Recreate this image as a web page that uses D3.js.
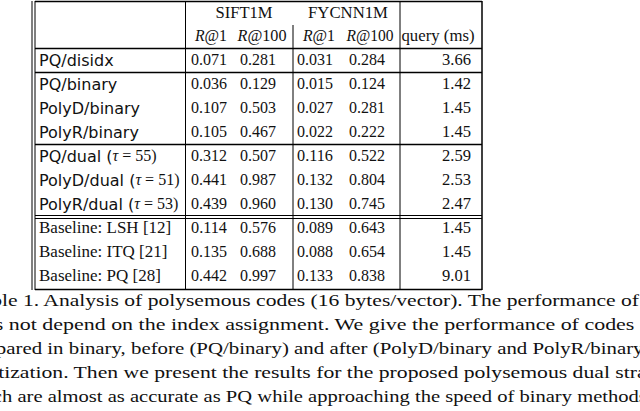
<!DOCTYPE html>
<html><head><meta charset="utf-8">
<script src="https://cdn.jsdelivr.net/npm/d3@7"></script>
<style>body{margin:0;background:#fff;overflow:hidden}</style></head>
<body><svg id="c" width="640" height="411"></svg>
<script>
const methods=["PQ/disidx","PQ/binary","PolyD/binary","PolyR/binary","PQ/dual (τ = 55)","PolyD/dual (τ = 51)","PolyR/dual (τ = 53)","Baseline: LSH [12]","Baseline: ITQ [21]","Baseline: PQ [28]"];
const siftR1=["0.071","0.036","0.107","0.105","0.312","0.441","0.439","0.114","0.135","0.442"];
const siftR100=["0.281","0.129","0.503","0.467","0.507","0.987","0.960","0.576","0.688","0.997"];
const fyR1=["0.031","0.015","0.027","0.022","0.116","0.132","0.130","0.089","0.088","0.133"];
const fyR100=["0.284","0.124","0.281","0.222","0.522","0.804","0.745","0.643","0.654","0.838"];
const query=["3.66","1.42","1.45","1.45","2.59","2.53","2.47","1.45","1.45","9.01"];
const caption=[
 ["Table 1.  Analysis of polysemous codes (16 bytes/vector). The performance of PQ",-30,702],
 ["does not depend on the index assignment. We give the performance of codes com-",-37,722],
 ["compared in binary, before (PQ/binary) and after (PolyD/binary and PolyR/binary) opti-",-40,735],
 ["quantization. Then we present the results for the proposed polysemous dual strategy,",-44,732],
 ["which are almost as accurate as PQ while approaching the speed of binary methods.",-38,690]];
const svg=d3.select("#c");
const y=d3.scaleLinear().domain([0,9]).range([61,277]);
const serif="'Liberation Serif',serif", sans="'DejaVu Sans',sans-serif";
const L=35,R=482,V1=185.5,V2=293,V3=400;
const line=(x1,y1,x2,y2,w=1)=>svg.append("line").attr("x1",x1).attr("y1",y1).attr("x2",x2).attr("y2",y2).attr("stroke","#000").attr("stroke-width",w);
line(L,1.5,R,1.5,1.5);line(L,289.5,R,289.5,1.5);
line(L-3,1,L-3,290,1);line(L,1,L,290,1);line(R,1,R,290,1.5);
line(V1,1,V1,290);line(V3,1,V3,290);line(V2,25,V2,290);
[48.5,72.5,144.5].forEach(v=>line(L,v,R,v,1.3));
line(L,215.5,R,215.5,1);line(L,218.5,R,218.5,1);
const t=(x,yy,s,f,anchor="start",size=17,len=null)=>{const e=svg.append("text").attr("x",x).attr("y",yy).attr("font-family",f).attr("font-size",size).attr("text-anchor",anchor).attr("dominant-baseline","middle").attr("fill","#111").text(s);if(len)e.attr("textLength",len).attr("lengthAdjust","spacingAndGlyphs");return e;};
t(244,14,"SIFT1M",serif,"middle",17,57);t(348,14,"FYCNN1M",serif,"middle",17,80);
[[211,"R@1",32],[262,"R@100",49],[319,"R@1",32],[370,"R@100",47]].forEach(([x,s,w])=>{const e=t(x,37,"",serif,"middle",17,w);e.append("tspan").attr("font-style","italic").text("R");e.append("tspan").text(s.slice(1));});
t(438,37,"query (ms)",serif,"middle",17,73);
methods.forEach((m,i)=>{const yy=y(i);
 const isBase=m.startsWith("Baseline");
 const e=t(39,yy,"",isBase?serif:sans,"start",isBase?17:16);
 const mm=m.match(/^(.*)\((τ)(.*)\)$/);
 if(mm){e.append("tspan").text(mm[1]+"(");e.append("tspan").attr("font-family",serif).attr("font-style","italic").text("τ");e.append("tspan").attr("font-family",serif).text(mm[3]+")");}
 else e.text(m);
 t(209,yy,siftR1[i],serif,"middle",17,36);t(258,yy,siftR100[i],serif,"middle",17,36);
 t(315,yy,fyR1[i],serif,"middle",17,36);t(367,yy,fyR100[i],serif,"middle",17,36);
 t(471,yy,query[i],serif,"end",17,29);});
caption.forEach(([s,x,w],i)=>t(x,302+i*24,s,serif,"start",17,w));
</script></body></html>
